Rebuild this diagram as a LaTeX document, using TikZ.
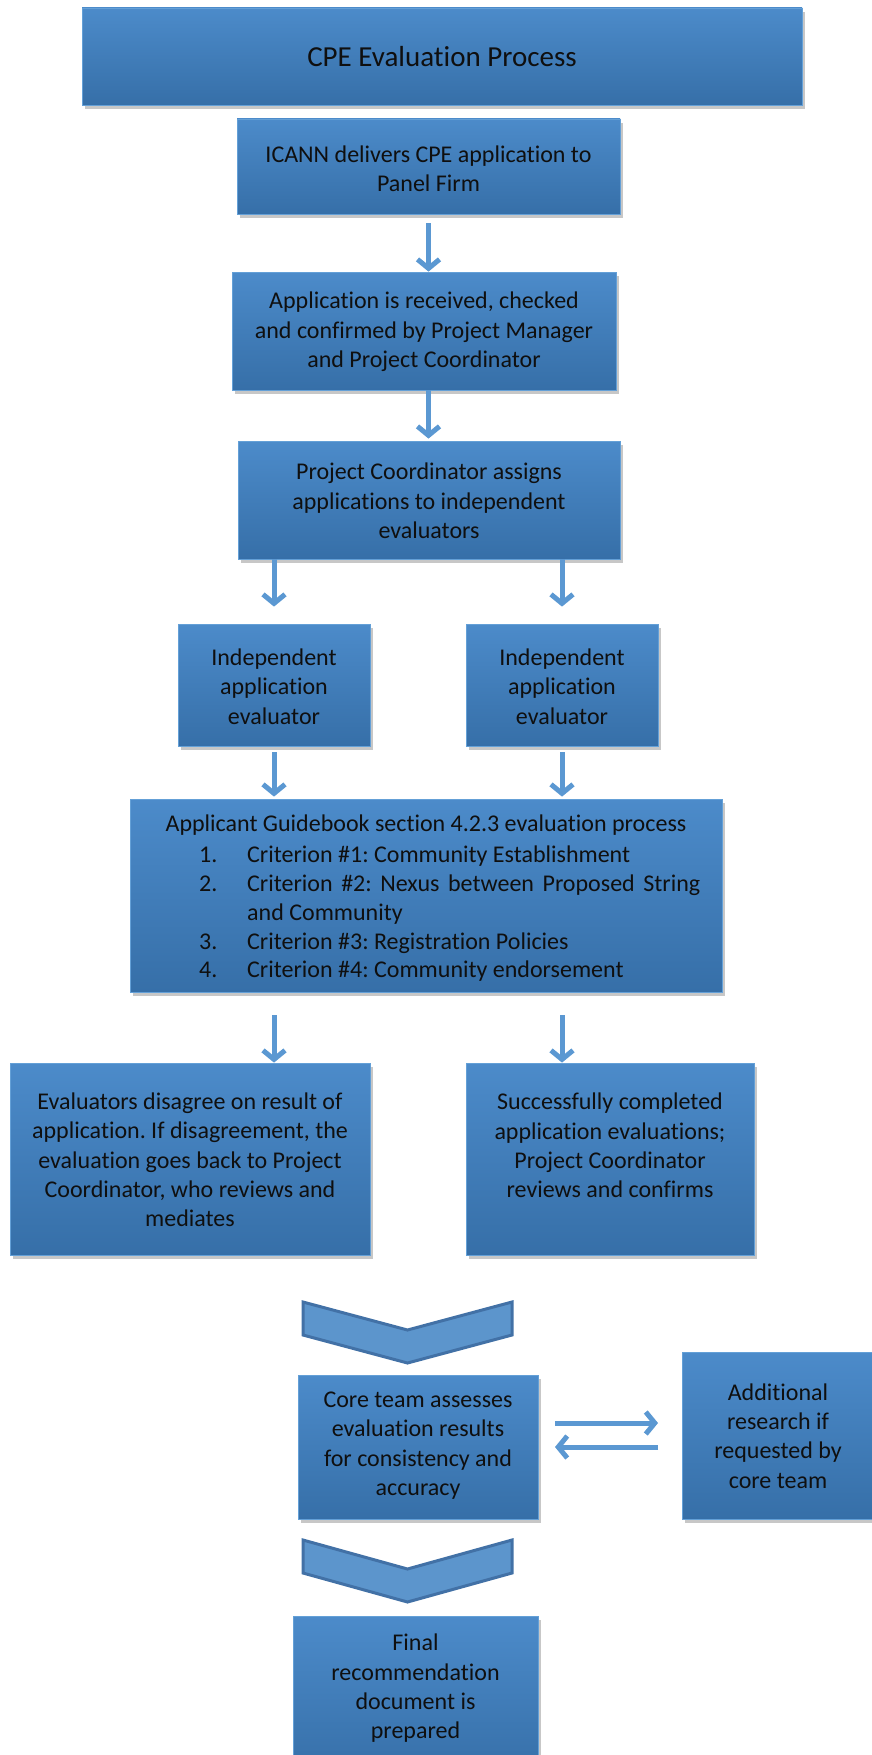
\documentclass[tikz,border=0pt]{standalone}
\usepackage{fontspec}
\setmainfont{Carlito}[Ligatures=NoCommon]
\frenchspacing
\usetikzlibrary{arrows.meta,shadows}
\definecolor{boxtop}{RGB}{76,139,202}
\definecolor{boxbot}{RGB}{54,111,168}
\definecolor{boxedge}{RGB}{100,160,215}
\definecolor{arrowcol}{RGB}{91,152,210}
\definecolor{chevfill}{RGB}{92,149,204}
\definecolor{chevedge}{RGB}{66,113,166}
\definecolor{textcol}{RGB}{15,15,15}
\tikzset{
  box/.style={draw=boxedge, line width=0.8pt, top color=boxtop, bottom color=boxbot,
    inner sep=0pt, drop shadow={shadow xshift=3pt, shadow yshift=-4pt, opacity=0.22, fill=black}},
  txt/.style={align=center, inner sep=0pt, text=textcol, font=\fontsize{24}{29.3}\selectfont},
  itemtxt/.style={anchor=base west, inner sep=0pt, text=textcol, font=\fontsize{24}{29.3}\selectfont},
  arr/.style={draw=arrowcol, line width=5pt, -{Straight Barb[length=9pt,width=22pt]}},
  chev/.style={fill=chevfill, draw=chevedge, line width=3pt, line join=miter},
}
\begin{document}
\begin{tikzpicture}[x=1pt,y=-1pt]
\useasboundingbox (0,0) rectangle (872,1755);
% boxes
\node[box, minimum width=720pt, minimum height=97pt] (title) at (442,56.5) {};
\node[box, minimum width=383pt, minimum height=95pt] (b1) at (428.5,166.5) {};
\node[box, minimum width=384pt, minimum height=118pt] (b2) at (424,331) {};
\node[box, minimum width=382pt, minimum height=118pt] (b3) at (429,500) {};
\node[box, minimum width=192pt, minimum height=122pt] (b4L) at (274,685) {};
\node[box, minimum width=192pt, minimum height=122pt] (b4R) at (562,685) {};
\node[box, minimum width=592pt, minimum height=193pt] (b5) at (426,895.5) {};
\node[box, minimum width=360pt, minimum height=192pt] (b6L) at (190,1159) {};
\node[box, minimum width=288pt, minimum height=192pt] (b6R) at (610,1159) {};
\node[box, minimum width=240pt, minimum height=144pt] (b7) at (418,1447) {};
\node[box, minimum width=192pt, minimum height=167pt] (b8) at (778,1435.5) {};
\node[box, minimum width=245pt, minimum height=160pt] (b9) at (415.5,1696) {};
% texts
\node[txt, font=\fontsize{29}{35}\selectfont] (ttitle) at (442,57) {CPE Evaluation Process};
\node[txt] (t1) at (428.5,168.5) {ICANN delivers CPE application to\\Panel Firm};
\node[txt] (t2) at (424,332) {Application is received, checked\\and confirmed by Project Manager\\and Project Coordinator};
\node[txt] (t3) at (429,501) {Project Coordinator assigns\\applications to independent\\evaluators};
\node[txt] (t4L) at (274,686.5) {Independent\\application\\evaluator};
\node[txt] (t4R) at (562,686.5) {Independent\\application\\evaluator};
\node[txt] (t5h) at (426,825) {Applicant Guidebook section 4.2.3 evaluation process};
\node[itemtxt] (n1) at (199,862) {1.};
\node[itemtxt] (i1) at (247,862) {Criterion \#1: Community Establishment};
\node[itemtxt] (n2) at (199,891) {2.};
\node[itemtxt] (i2) at (247,891) {\hbox to 453pt{Criterion\hfill\#2:\hfill Nexus\hfill between\hfill Proposed\hfill String}};
\node[itemtxt] (i2b) at (247,920) {and Community};
\node[itemtxt] (n3) at (199,949) {3.};
\node[itemtxt] (i3) at (247,949) {Criterion \#3: Registration Policies};
\node[itemtxt] (n4) at (199,977) {4.};
\node[itemtxt] (i4) at (247,977) {Criterion \#4: Community endorsement};
\node[txt] (t6L) at (190,1160) {Evaluators disagree on result of\\application. If disagreement, the\\evaluation goes back to Project\\Coordinator, who reviews and\\mediates};
\node[txt] (t6R) at (610,1145.5) {Successfully completed\\application evaluations;\\Project Coordinator\\reviews and confirms};
\node[txt] (t7) at (418,1445.5) {Core team assesses\\evaluation results\\for consistency and\\accuracy};
\node[txt] (t8) at (778,1436) {Additional\\research if\\requested by\\core team};
\node[txt] (t9) at (415.5,1688.5) {Final\\recommendation\\document is\\prepared};
% chevrons
\draw[chev] (303,1302) -- (407.5,1330) -- (512,1302) -- (512,1335) -- (407.5,1363) -- (303,1335) -- cycle;
\draw[chev] (303,1540) -- (407.5,1569) -- (512,1540) -- (512,1573) -- (407.5,1602) -- (303,1573) -- cycle;
% arrows
\draw[arr] ([yshift=-9pt]b1.south) -- (b1.south |- b2.north);
\draw[arr] (b1.south |- b2.south) -- ([yshift=2pt]b1.south |- b3.north);
\draw[arr] (b4L.north |- b3.south) -- ([yshift=17pt]b4L.north);
\draw[arr] (b4R.north |- b3.south) -- ([yshift=17pt]b4R.north);
\draw[arr] ([yshift=-6pt]b4L.south) -- ([yshift=2pt]b4L.south |- b5.north);
\draw[arr] ([yshift=-6pt]b4R.south) -- ([yshift=2pt]b4R.south |- b5.north);
\draw[arr] ([yshift=-23pt]b4L.south |- b5.south) -- (b4L.south |- b6L.north);
\draw[arr] ([yshift=-23pt]b4R.south |- b5.south) -- (b4R.south |- b6R.north);
\coordinate (r1) at (555,1423);
\coordinate (r2) at (658,1423);
\coordinate (l1) at (658,1447);
\coordinate (l2) at (555,1447);
\draw[arr] (r1) -- (r2);
\draw[arr] (l1) -- (l2);
\end{tikzpicture}
\end{document}
